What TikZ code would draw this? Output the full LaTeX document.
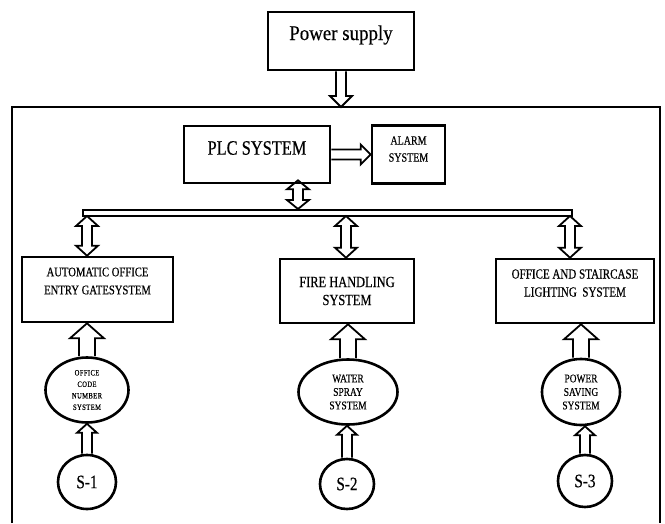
\documentclass[tikz,border=0pt]{standalone}
\usepackage{fontspec}
\setmainfont[FakeStretch=0.9,FakeBold=0.3]{Liberation Serif}
\newfontfamily\cfont[FakeStretch=0.8,FakeBold=0.4]{Liberation Serif}
\newfontfamily\lsfont[FakeStretch=0.8,FakeBold=0.4,LetterSpace=5]{Liberation Serif}
\usetikzlibrary{calc,shapes.geometric}
\newcommand\fs[2]{\fontsize{#1}{#2}\selectfont}
\newcommand\blockarrow[5]{%
  \coordinate (bA) at (#1); \coordinate (bB) at (#2);
  \coordinate (bH) at ($(bB)!#5!(bA)$);
  \draw[hollow] ($(bA)!#3!90:(bB)$) -- ($(bH)!#3!90:(bB)$) -- ($(bH)!#4!90:(bB)$) -- (bB)
     -- ($(bH)!#4!-90:(bB)$) -- ($(bH)!#3!-90:(bB)$) -- ($(bA)!#3!-90:(bB)$);
}
\newcommand\dblockarrow[5]{%
  \coordinate (bA) at (#1); \coordinate (bB) at (#2);
  \coordinate (bH) at ($(bB)!#5!(bA)$);
  \coordinate (bG) at ($(bA)!#5!(bB)$);
  \draw[hollow] (bA) -- ($(bG)!#4!90:(bB)$) -- ($(bG)!#3!90:(bB)$) -- ($(bH)!#3!90:(bB)$)
     -- ($(bH)!#4!90:(bB)$) -- (bB) -- ($(bH)!#4!-90:(bB)$) -- ($(bH)!#3!-90:(bB)$)
     -- ($(bG)!#3!-90:(bB)$) -- ($(bG)!#4!-90:(bB)$) -- cycle;
}
\tikzset{
  box/.style={draw, line width=2.6pt, inner sep=0pt},
  oval/.style={ellipse, draw, line width=2.6pt, inner sep=0pt, align=center},
  hollow/.style={draw, line width=1.8pt, line join=miter, miter limit=4},
  txt/.style={align=center, inner sep=0pt},
  frameline/.style={line width=1.3pt}
}
\begin{document}
\begin{tikzpicture}[x=1pt, y=-1pt]
\useasboundingbox (0,0) rectangle (665,523);
% top
\node[box, minimum width=146pt, minimum height=58pt] (ps) at (341,41) {};
\node[txt, font=\fs{21}{21}] (pst) at (341,35) {Power supply};
\draw[frameline] (12,523) -- (12,107) -- (660,107) -- (660,523);
\coordinate (ftop) at (341,107);
\blockarrow{ps.south}{ps.south |- ftop}{5pt}{11pt}{11pt}
% PLC and alarm
\node[box, minimum width=146pt, minimum height=57pt] (plc) at (257,154.5) {};
\node[txt, font=\cfont\fs{20.5}{20.5}] (plct) at (257,148) {PLC SYSTEM};
\node[box, minimum width=73pt, minimum height=58pt] (alarm) at (408.5,154.5) {};
\node[txt, font=\cfont\fs{12.5}{17}] (alarmt) at (408.5,149) {ALARM\\SYSTEM};
\blockarrow{plc.east}{plc.east -| alarm.west}{5pt}{10pt}{10pt}
% bus
\node[draw, line width=2pt, minimum width=489pt, minimum height=6pt, inner sep=0pt] (bus) at (327.5,213) {};
\coordinate (pb) at ($(plc.south)+(41,-4)$);
\dblockarrow{pb}{pb |- bus.north}{5pt}{11pt}{9pt}
% lower boxes
\node[box, minimum width=151pt, minimum height=65pt] (lbox) at (97.5,289.5) {};
\node[txt, font=\cfont\fs{13.3}{18}] (lboxt) at (97.5,281) {AUTOMATIC OFFICE\\ENTRY GATESYSTEM};
\node[box, minimum width=134pt, minimum height=64pt] (mbox) at (347,291) {};
\node[txt, font=\cfont\fs{15.5}{18}] (mboxt) at (347,291) {FIRE HANDLING\\SYSTEM};
\node[box, minimum width=158pt, minimum height=64pt] (rbox) at (575,291) {};
\node[txt, font=\cfont\fs{13.8}{18}] (rboxt) at (575,283) {OFFICE AND STAIRCASE\\LIGHTING\ \ SYSTEM};
\coordinate (b1) at (87,216);
\coordinate (b2) at (346,216);
\coordinate (b3) at (570,216);
\dblockarrow{b1}{b1 |- lbox.north}{5pt}{11pt}{10pt}
\dblockarrow{b2}{b2 |- mbox.north}{5pt}{11pt}{10pt}
\dblockarrow{b3}{b3 |- rbox.north}{5pt}{11pt}{10pt}
% ellipses
\node[oval, minimum width=83pt, minimum height=65pt, font=\lsfont\fs{8.2}{11.5}] (e1) at (87,390) {OFFICE\\CODE\\NUMBER\\SYSTEM};
\node[oval, minimum width=99pt, minimum height=65pt, font=\cfont\fs{11.8}{13.5}] (e2) at (348,392) {WATER\\SPRAY\\SYSTEM};
\node[oval, minimum width=78pt, minimum height=66pt, font=\cfont\fs{11.8}{13.5}] (e3) at (581,392) {POWER\\SAVING\\SYSTEM};
\blockarrow{e1.north}{e1.north |- lbox.south}{8pt}{17pt}{15pt}
\blockarrow{e2.north}{e2.north |- mbox.south}{8pt}{17pt}{15pt}
\blockarrow{e3.north}{e3.north |- rbox.south}{8pt}{17pt}{15pt}
% sensors
\node[oval, minimum width=58pt, minimum height=54pt, font=\cfont\fs{19}{19}] (s1) at (87,482) {S-1};
\node[oval, minimum width=54pt, minimum height=50pt, font=\cfont\fs{19}{19}] (s2) at (347,484) {S-2};
\node[oval, minimum width=54pt, minimum height=52pt, font=\cfont\fs{19}{19}] (s3) at (585,481) {S-3};
\blockarrow{s1.north}{s1.north |- e1.south}{5pt}{10pt}{9pt}
\blockarrow{s2.north}{s2.north |- e2.south}{5pt}{10pt}{9pt}
\blockarrow{s3.north}{s3.north |- e3.south}{5pt}{10pt}{9pt}
\end{tikzpicture}
\end{document}
